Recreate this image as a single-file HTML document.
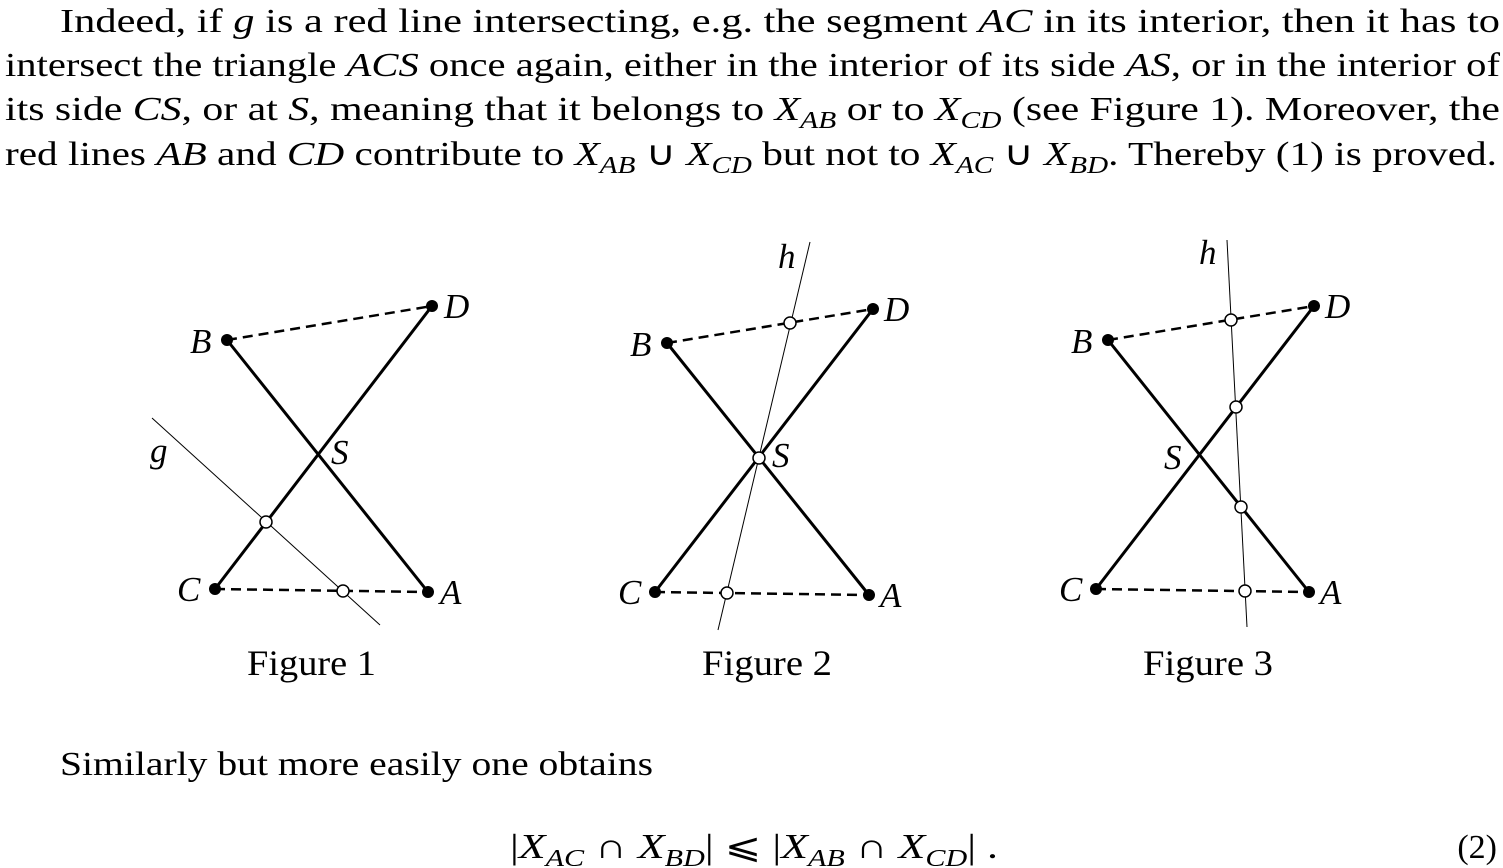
<!DOCTYPE html>
<html><head><meta charset="utf-8"><style>
html,body{margin:0;padding:0;background:#fff;}
svg{display:block;}
text{font-family:"Liberation Serif",serif;fill:#000;}
</style></head><body>
<svg width="1503" height="868" viewBox="0 0 1503 868" xmlns="http://www.w3.org/2000/svg">
<g font-size="34">
<text x="60" y="32" textLength="1440" lengthAdjust="spacingAndGlyphs">Indeed, if <tspan font-style="italic">g</tspan> is a red line intersecting, e.g. the segment <tspan font-style="italic">AC</tspan> in its interior, then it has to</text>
<text x="5" y="76" textLength="1495" lengthAdjust="spacingAndGlyphs">intersect the triangle <tspan font-style="italic">ACS</tspan> once again, either in the interior of its side <tspan font-style="italic">AS</tspan>, or in the interior of</text>
<text x="5" y="120" textLength="1495" lengthAdjust="spacingAndGlyphs">its side <tspan font-style="italic">CS</tspan>, or at <tspan font-style="italic">S</tspan>, meaning that it belongs to <tspan font-style="italic">X</tspan><tspan font-style="italic" font-size="24" dy="8">AB</tspan><tspan dy="-8"> or to </tspan><tspan font-style="italic">X</tspan><tspan font-style="italic" font-size="24" dy="8">CD</tspan><tspan dy="-8"> (see Figure 1). Moreover, the</tspan></text>
<text x="5" y="165" textLength="1492" lengthAdjust="spacingAndGlyphs">red lines <tspan font-style="italic">AB</tspan> and <tspan font-style="italic">CD</tspan> contribute to <tspan font-style="italic">X</tspan><tspan font-style="italic" font-size="24" dy="8">AB</tspan><tspan dy="-8"> ∪ </tspan><tspan font-style="italic">X</tspan><tspan font-style="italic" font-size="24" dy="8">CD</tspan><tspan dy="-8"> but not to </tspan><tspan font-style="italic">X</tspan><tspan font-style="italic" font-size="24" dy="8">AC</tspan><tspan dy="-8"> ∪ </tspan><tspan font-style="italic">X</tspan><tspan font-style="italic" font-size="24" dy="8">BD</tspan><tspan dy="-8">. Thereby (1) is proved.</tspan></text>
</g>

<g stroke="#000" fill="none">
<line x1="227" y1="340" x2="428" y2="592" stroke-width="3"/>
<line x1="215" y1="589" x2="432" y2="306" stroke-width="3"/>
<line x1="227" y1="340" x2="432" y2="306" stroke-width="2.5" stroke-dasharray="10,6"/>
<line x1="215" y1="589" x2="428" y2="592" stroke-width="2.5" stroke-dasharray="10,6"/>
<line x1="152" y1="418" x2="380" y2="625" stroke-width="1"/>
<line x1="667" y1="343" x2="869" y2="595" stroke-width="3"/>
<line x1="655" y1="592" x2="873" y2="309" stroke-width="3"/>
<line x1="667" y1="343" x2="873" y2="309" stroke-width="2.5" stroke-dasharray="10,6"/>
<line x1="655" y1="592" x2="869" y2="595" stroke-width="2.5" stroke-dasharray="10,6"/>
<line x1="810" y1="242" x2="718" y2="630" stroke-width="1"/>
<line x1="1108" y1="340" x2="1309" y2="592" stroke-width="3"/>
<line x1="1096" y1="589" x2="1314" y2="306" stroke-width="3"/>
<line x1="1108" y1="340" x2="1314" y2="306" stroke-width="2.5" stroke-dasharray="10,6"/>
<line x1="1096" y1="589" x2="1309" y2="592" stroke-width="2.5" stroke-dasharray="10,6"/>
<line x1="1227" y1="240" x2="1247" y2="627" stroke-width="1"/>
</g>
<g fill="#000">
<circle cx="227" cy="340" r="6"/><circle cx="432" cy="306" r="6"/><circle cx="215" cy="589" r="6"/><circle cx="428" cy="592" r="6"/>
<circle cx="667" cy="343" r="6"/><circle cx="873" cy="309" r="6"/><circle cx="655" cy="592" r="6"/><circle cx="869" cy="595" r="6"/>
<circle cx="1108" cy="340" r="6"/><circle cx="1314" cy="306" r="6"/><circle cx="1096" cy="589" r="6"/><circle cx="1309" cy="592" r="6"/>
</g>
<g fill="#fff" stroke="#000" stroke-width="1.5">
<circle cx="266" cy="522" r="6"/><circle cx="343" cy="591" r="6"/>
<circle cx="790" cy="323" r="6"/><circle cx="759" cy="458" r="6"/><circle cx="727" cy="593" r="6"/>
<circle cx="1231" cy="320" r="6"/><circle cx="1236" cy="407" r="6"/><circle cx="1241" cy="507" r="6"/><circle cx="1245" cy="591" r="6"/>
</g>
<g font-size="35" font-style="italic">
<text x="190" y="353">B</text><text x="444" y="318">D</text><text x="177" y="601">C</text><text x="440" y="604">A</text><text x="331" y="464">S</text><text x="150" y="462">g</text>
<text x="630" y="356">B</text><text x="884" y="321">D</text><text x="618" y="604">C</text><text x="880" y="607">A</text><text x="772" y="467">S</text><text x="778" y="268">h</text>
<text x="1071" y="353">B</text><text x="1325" y="318">D</text><text x="1059" y="601">C</text><text x="1320" y="604">A</text><text x="1164" y="469">S</text><text x="1199" y="264">h</text>
</g>
<g font-size="36">
<text x="247" y="675" textLength="129" lengthAdjust="spacingAndGlyphs">Figure 1</text>
<text x="702" y="675" textLength="130" lengthAdjust="spacingAndGlyphs">Figure 2</text>
<text x="1143" y="675" textLength="130" lengthAdjust="spacingAndGlyphs">Figure 3</text>
</g>
<text x="60" y="775" font-size="34" textLength="593" lengthAdjust="spacingAndGlyphs">Similarly but more easily one obtains</text>
<text x="510" y="858" font-size="35" textLength="488" lengthAdjust="spacingAndGlyphs">|<tspan font-style="italic">X</tspan><tspan font-style="italic" font-size="24" dy="8">AC</tspan><tspan dy="-8"> ∩ </tspan><tspan font-style="italic">X</tspan><tspan font-style="italic" font-size="24" dy="8">BD</tspan><tspan dy="-8">| ⩽ |</tspan><tspan font-style="italic">X</tspan><tspan font-style="italic" font-size="24" dy="8">AB</tspan><tspan dy="-8"> ∩ </tspan><tspan font-style="italic">X</tspan><tspan font-style="italic" font-size="24" dy="8">CD</tspan><tspan dy="-8">| .</tspan></text>
<text x="1497" y="858" font-size="34" text-anchor="end">(2)</text>
</svg>
</body></html>
